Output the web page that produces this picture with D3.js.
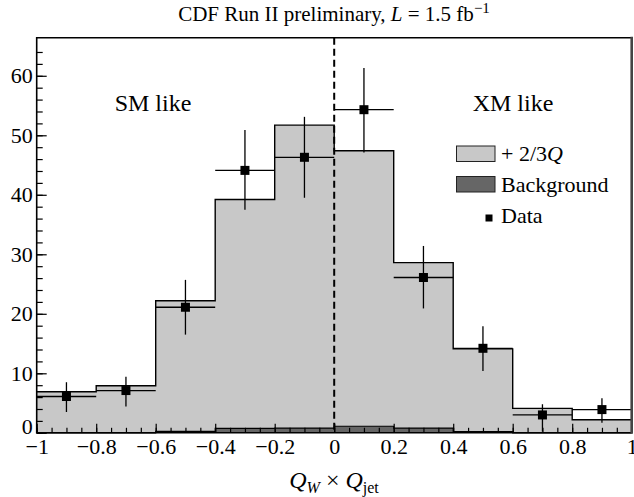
<!DOCTYPE html>
<html><head><meta charset="utf-8">
<script src="https://cdn.jsdelivr.net/npm/d3@7"></script>
<style>body{margin:0;background:#fff} text{font-family:"Liberation Serif","Times New Roman",serif;fill:#000}</style>
</head><body><svg id="c" width="634" height="497"></svg>
<script>
const binEdges = [-1,-0.8,-0.6,-0.4,-0.2,0,0.2,0.4,0.6,0.8,1];
const signal = [6.9,7.9,22.2,39.2,51.7,47.4,28.6,14.1,4.1,2.2];
const background = [0,0,0.25,0.75,0.8,1.1,0.8,0.2,0,0];
const dataX = [-0.9,-0.7,-0.5,-0.3,-0.1,0.1,0.3,0.5,0.7,0.9];
const dataY = [6.1,7.1,21.1,44.1,46.3,54.3,26.1,14.2,3.0,3.9];
const errLow = [2.6,2.7,4.6,6.6,6.8,7.2,5.2,3.8,2.8,2.2];
const errHigh = [2.4,2.3,4.6,6.8,6.8,7.0,5.3,3.7,1.8,1.9];
const xTicks = [-1,-0.8,-0.6,-0.4,-0.2,0,0.2,0.4,0.6,0.8,1];
const yTicks = [0,10,20,30,40,50,60];
const legendLabels = ["+2/3Q","Background","Data"];

const svg = d3.select("#c");
const L=36.7,R=631.7,T=37.7,B=432.8;
const x = d3.scaleLinear().domain([-1,1]).range([L,R]);
const y = d3.scaleLinear().domain([0,66.4]).range([B,T]);

function stepPts(vals){
  const pts=[];
  vals.forEach((v,i)=>{pts.push([binEdges[i],v]);pts.push([binEdges[i+1],v]);});
  return pts;
}
const area = d3.area().x(d=>x(d[0])).y0(y(0)).y1(d=>y(d[1]));
const line = d3.line().x(d=>x(d[0])).y(d=>y(d[1]));

const sp = stepPts(signal);
svg.append("path").attr("d",area(sp)).attr("fill","#c8c8c8");
svg.append("path").attr("d",line(sp)).attr("fill","none").attr("stroke","#000").attr("stroke-width",1.4);
const bp = stepPts(background);
svg.append("path").attr("d",area(bp)).attr("fill","#666");
svg.append("path").attr("d",line(bp)).attr("fill","none").attr("stroke","#000").attr("stroke-width",1.2);

svg.append("line").attr("x1",x(0)).attr("x2",x(0)).attr("y1",T).attr("y2",B)
  .attr("stroke","#000").attr("stroke-width",2).attr("stroke-dasharray","7,4");

const g = svg.append("g");
dataX.forEach((dx,i)=>{
  g.append("line").attr("x1",x(binEdges[i])).attr("x2",x(binEdges[i+1])).attr("y1",y(dataY[i])).attr("y2",y(dataY[i]))
   .attr("stroke","#000").attr("stroke-width",1.3);
  g.append("line").attr("x1",x(dx)).attr("x2",x(dx)).attr("y1",y(dataY[i]-errLow[i])).attr("y2",y(dataY[i]+errHigh[i]))
   .attr("stroke","#000").attr("stroke-width",1.3);
  g.append("rect").attr("x",x(dx)-4.5).attr("y",y(dataY[i])-4.5).attr("width",9).attr("height",9).attr("fill","#000");
});

const fmt = d=>d3.format("~g")(d);
const xMinor = d3.range(-1,1.0001,0.05).map(v=>+v.toFixed(2));
const yMinor = d3.range(0,66,2);
svg.append("g").attr("transform",`translate(0,${B})`).call(d3.axisBottom(x).tickValues(xMinor).tickSize(-5).tickFormat(""))
  .call(a=>a.select(".domain").remove()).selectAll("line").attr("stroke-width",1.2);
const xa = svg.append("g").attr("transform",`translate(0,${B})`).call(d3.axisBottom(x).tickValues(xTicks).tickSize(-9).tickPadding(6).tickFormat(fmt));
xa.select(".domain").remove();
xa.selectAll("line").attr("stroke-width",1.2);
xa.selectAll("text").attr("font-size",22).attr("font-family","Liberation Serif");
svg.append("g").attr("transform",`translate(${L},0)`).call(d3.axisLeft(y).tickValues(yMinor).tickSize(-6).tickFormat(""))
  .call(a=>a.select(".domain").remove()).selectAll("line").attr("stroke-width",1.2);
const ya = svg.append("g").attr("transform",`translate(${L},0)`).call(d3.axisLeft(y).tickValues(yTicks).tickSize(-10).tickPadding(4).tickFormat(fmt));
ya.select(".domain").remove();
ya.selectAll("line").attr("stroke-width",1.2);
ya.selectAll("text").attr("font-size",22).attr("font-family","Liberation Serif");
ya.selectAll("text").filter(d=>d===0).attr("dy","0.05em");

svg.append("path").attr("d",`M${R},${T}H${L}V${B}H${R}`).attr("fill","none").attr("stroke","#000").attr("stroke-width",1.6);
svg.append("line").attr("x1",R).attr("x2",R).attr("y1",T-1).attr("y2",B+1).attr("stroke","#444").attr("stroke-width",2.6);

const t = svg.append("text").attr("x",334).attr("y",21).attr("text-anchor","middle").attr("font-size",21);
t.append("tspan").text("CDF Run II preliminary, ");
t.append("tspan").attr("font-style","italic").text("L");
t.append("tspan").text(" = 1.5 fb");
t.append("tspan").attr("dy",-8).attr("font-size",15).text("−1");

svg.append("text").attr("x",153).attr("y",111).attr("text-anchor","middle").attr("font-size",24).text("SM like");
svg.append("text").attr("x",513).attr("y",111).attr("text-anchor","middle").attr("font-size",24).text("XM like");

const xt = svg.append("text").attr("x",334).attr("y",488).attr("text-anchor","middle").attr("font-size",24);
xt.append("tspan").attr("font-style","italic").text("Q");
xt.append("tspan").attr("font-style","italic").attr("font-size",16).attr("dy",5).text("W");
xt.append("tspan").attr("dy",-5).text(" × ");
xt.append("tspan").attr("font-style","italic").text("Q");
xt.append("tspan").attr("font-size",16).attr("dy",5).text("jet");

svg.append("rect").attr("x",456.5).attr("y",146).attr("width",38.5).attr("height",15.5).attr("fill","#c8c8c8").attr("stroke","#222").attr("stroke-width",1);
svg.append("rect").attr("x",456.5).attr("y",176.5).attr("width",38.5).attr("height",15.5).attr("fill","#666").attr("stroke","#222").attr("stroke-width",1);
svg.append("rect").attr("x",485.5).attr("y",214.5).attr("width",7).attr("height",7).attr("fill","#000");
const lt = svg.append("text").attr("x",501).attr("y",161).attr("font-size",22);
lt.append("tspan").text("+ 2/3");
lt.append("tspan").attr("font-style","italic").text("Q");
svg.append("text").attr("x",501).attr("y",192).attr("font-size",22).text(legendLabels[1]);
svg.append("text").attr("x",501).attr("y",223).attr("font-size",22).text(legendLabels[2]);
</script></body></html>
